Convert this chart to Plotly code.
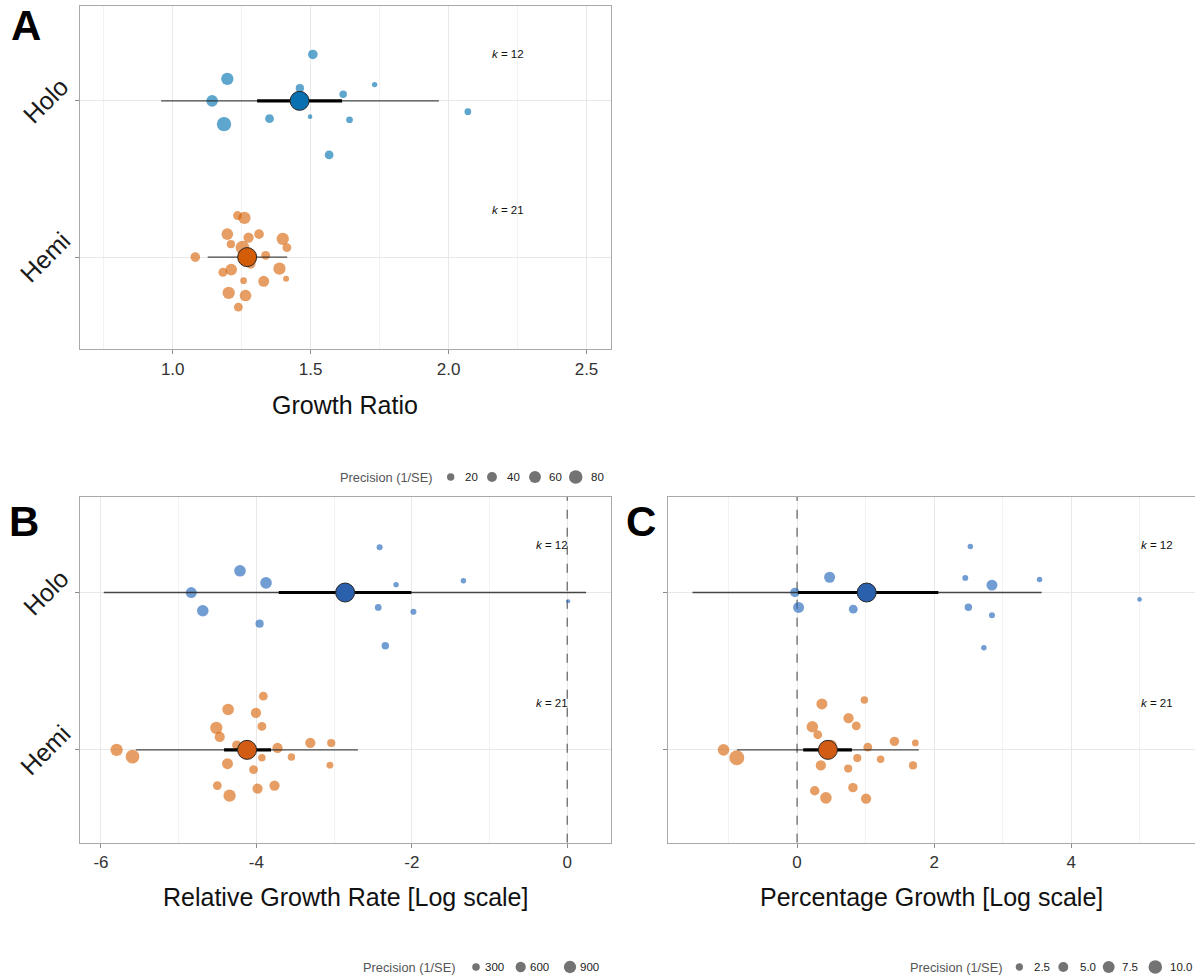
import numpy as np
import plotly.graph_objects as go

W, H = 1195, 978
FONT = "Liberation Sans, Arial, sans-serif"

# ---------------------------------------------------------------------------
# Data
# ---------------------------------------------------------------------------
group_pos = {"Holo": 2, "Hemi": 1}
k_counts = {"Holo": 12, "Hemi": 21}

# Panel A: Growth Ratio
a_holo_est = [1.508, 1.198, 1.143, 1.186, 1.461, 1.618, 1.732, 1.351, 1.498, 1.641, 1.567, 2.070]
a_holo_jit = [0.297, 0.141, 0.0, -0.149, 0.081, 0.042, 0.104, -0.114, -0.101, -0.121, -0.346, -0.069]
a_holo_prec = [37, 65, 57, 90, 26, 21, 9, 30, 6, 16, 30, 16]

a_hemi_est = [1.235, 1.260, 1.198, 1.275, 1.313, 1.399, 1.414, 1.211, 1.253, 1.337, 1.082,
              1.212, 1.182, 1.387, 1.257, 1.330, 1.411, 1.203, 1.264, 1.238, 1.283]
a_hemi_jit = [0.266, 0.251, 0.147, 0.125, 0.147, 0.117, 0.061, 0.083, 0.061, 0.011, 0.0,
              -0.080, -0.097, -0.074, -0.151, -0.155, -0.138, -0.229, -0.246, -0.320, -0.043]
a_hemi_prec = [31, 65, 57, 43, 37, 65, 31, 26, 83, 31, 37, 57, 31, 65, 16, 50, 12, 65, 57, 31, 37]

# mean, CI low, CI high, PI low, PI high
a_summary = {"Holo": (1.460, 1.306, 1.614, 0.958, 1.965),
             "Hemi": (1.270, 1.240, 1.300, 1.127, 1.415)}

# Panel B: Relative Growth Rate (log scale)
b_holo_est = [-2.414, -4.211, -3.876, -2.202, -1.336, -4.838, -4.690, -2.432, -1.979, 0.013, -3.959, -2.341]
b_holo_jit = [0.287, 0.138, 0.061, 0.050, 0.075, 0.0, -0.116, -0.095, -0.123, -0.056, -0.198, -0.339]
b_holo_prec = [170, 787, 787, 130, 130, 696, 787, 225, 170, 56, 357, 287]

b_hemi_est = [-3.911, -4.364, -4.006, -4.516, -3.929, -4.472, -4.251, -3.306, -3.037, -3.728, -5.799,
              -5.594, -3.929, -3.549, -4.372, -4.037, -3.054, -4.503, -3.985, -3.767, -4.345]
b_hemi_jit = [0.341, 0.257, 0.235, 0.140, 0.149, 0.082, 0.030, 0.045, 0.043, 0.013, 0.0,
              -0.043, -0.050, -0.045, -0.088, -0.125, -0.097, -0.227, -0.246, -0.227, -0.291]
b_hemi_prec = [423, 787, 598, 900, 423, 598, 506, 598, 357, 598, 900,
               1150, 287, 287, 696, 423, 225, 423, 598, 598, 900]

b_summary = {"Holo": (-2.858, -3.712, -2.006, -5.964, 0.243),
             "Hemi": (-4.120, -4.416, -3.811, -5.551, -2.694)}

# Panel C: Percentage Growth (log scale)
c_holo_est = [2.529, 0.475, 2.455, 2.844, 3.539, -0.032, 0.022, 0.820, 2.500, 2.844, 4.998, 2.726]
c_holo_jit = [0.292, 0.097, 0.093, 0.047, 0.082, 0.0, -0.095, -0.106, -0.094, -0.144, -0.044, -0.351]
c_holo_prec = [1.2, 6.3, 1.5, 6.3, 1.2, 4.5, 6.3, 3.8, 2.6, 1.5, 0.8, 1.2]

c_hemi_est = [0.362, 0.982, 0.751, 0.223, 0.864, 0.302, 1.421, 1.726, 1.032, -1.073, -0.880,
              0.879, 1.219, 0.347, 0.746, 1.692, 0.258, 0.815, 0.421, 1.007, 0.494]
c_hemi_jit = [0.292, 0.317, 0.201, 0.147, 0.152, 0.096, 0.054, 0.044, 0.017, 0.0, -0.050,
              -0.052, -0.060, -0.099, -0.119, -0.099, -0.260, -0.240, -0.305, -0.310, 0.028]
c_hemi_prec = [6.3, 2.6, 5.4, 7.1, 3.8, 3.8, 4.5, 2.0, 3.8, 7.1, 12.6,
               3.2, 2.6, 5.4, 3.2, 3.2, 4.5, 4.5, 7.1, 5.4, 7.1]

c_summary = {"Holo": (1.016, 0.012, 2.061, -1.526, 3.569),
             "Hemi": (0.450, 0.090, 0.800, -0.875, 1.776)}

# Precision legend breaks
a_breaks = [20, 40, 60, 80]
a_break_labels = ["20", "40", "60", "80"]
b_breaks = [300, 600, 900]
b_break_labels = ["300", "600", "900"]
c_breaks = [2.5, 5.0, 7.5, 10.0]
c_break_labels = ["2.5", "5.0", "7.5", "10.0"]

# Axis ticks
a_ticks = [1.0, 1.5, 2.0, 2.5]
a_ticktext = ["1.0", "1.5", "2.0", "2.5"]
a_minor = [0.75, 1.25, 1.75, 2.25]
b_ticks = [-6, -4, -2, 0]
b_ticktext = ["-6", "-4", "-2", "0"]
b_minor = [-5, -3, -1]
c_ticks = [0, 2, 4]
c_ticktext = ["0", "2", "4"]
c_minor = [-1, 1, 3, 5]

Y_RANGE = [0.41, 2.607]

# ---------------------------------------------------------------------------
# Styling
# ---------------------------------------------------------------------------
point_colors = {
    "A": {"Holo": "rgba(0,114,178,0.90)", "Hemi": "rgba(213,94,0,0.86)"},
    "B": {"Holo": "rgba(30,100,185,0.90)", "Hemi": "rgba(213,94,0,0.86)"},
}
point_colors["C"] = point_colors["B"]
mean_colors = {
    "A": {"Holo": "#0a70b0", "Hemi": "#d35c06"},
    "B": {"Holo": "#2b60ad", "Hemi": "#d35c14"},
}
mean_colors["C"] = mean_colors["B"]

# marker diameter (px) = scale * sqrt(precision) + outline allowance
size_scale = {"A": 1.38, "B": 0.37, "C": 3.9}
STROKE = 1.2


def dot_size(prec, scale):
    return scale * np.sqrt(np.asarray(prec, dtype=float)) + STROKE


panels = {
    "A": dict(xa="x", ya="y",
              data={"Holo": (a_holo_est, a_holo_jit, a_holo_prec),
                    "Hemi": (a_hemi_est, a_hemi_jit, a_hemi_prec)},
              summary=a_summary, k_x=2.215, zero_line=False),
    "B": dict(xa="x2", ya="y2",
              data={"Holo": (b_holo_est, b_holo_jit, b_holo_prec),
                    "Hemi": (b_hemi_est, b_hemi_jit, b_hemi_prec)},
              summary=b_summary, k_x=-0.194, zero_line=True),
    "C": dict(xa="x3", ya="y3",
              data={"Holo": (c_holo_est, c_holo_jit, c_holo_prec),
                    "Hemi": (c_hemi_est, c_hemi_jit, c_hemi_prec)},
              summary=c_summary, k_x=5.254, zero_line=True),
}

fig = go.Figure()
annotations = []

for name, p in panels.items():
    sc = size_scale[name]
    # dashed reference line at zero (log-ratio scales)
    if p["zero_line"]:
        fig.add_trace(go.Scatter(
            x=[0, 0], y=Y_RANGE, mode="lines", xaxis=p["xa"], yaxis=p["ya"],
            line=dict(color="#606060", width=1.2, dash="dash"),
            showlegend=False, hoverinfo="skip"))
    # individual effect sizes
    for grp in ["Hemi", "Holo"]:
        est, jit, prec = p["data"][grp]
        yy = group_pos[grp] + np.asarray(jit)
        fig.add_trace(go.Scatter(
            x=est, y=yy, mode="markers", xaxis=p["xa"], yaxis=p["ya"],
            marker=dict(size=dot_size(prec, sc), color=point_colors[name][grp],
                        line=dict(width=0)),
            showlegend=False, hoverinfo="skip"))
    # pooled estimate: prediction interval, confidence interval, mean
    for grp in ["Hemi", "Holo"]:
        m, cl, ch, pl, ph = p["summary"][grp]
        g = group_pos[grp]
        fig.add_trace(go.Scatter(
            x=[pl, ph], y=[g, g], mode="lines", xaxis=p["xa"], yaxis=p["ya"],
            line=dict(color="rgba(40,40,40,0.85)", width=1.3),
            showlegend=False, hoverinfo="skip"))
        fig.add_trace(go.Scatter(
            x=[cl, ch], y=[g, g], mode="lines", xaxis=p["xa"], yaxis=p["ya"],
            line=dict(color="#000000", width=3.2),
            showlegend=False, hoverinfo="skip"))
        fig.add_trace(go.Scatter(
            x=[m], y=[g], mode="markers", xaxis=p["xa"], yaxis=p["ya"],
            marker=dict(size=19, color=mean_colors[name][grp],
                        line=dict(width=1, color="#262626")),
            showlegend=False, hoverinfo="skip"))
        annotations.append(dict(
            x=p["k_x"], y=g + 0.30, xref=p["xa"], yref=p["ya"],
            text=f"<i>k</i> = {k_counts[grp]}", showarrow=False,
            font=dict(family=FONT, size=11.5, color="#111111"),
            xanchor="center", yanchor="middle"))

# ---------------------------------------------------------------------------
# Size legends (drawn on a hidden pixel-space axis)
# ---------------------------------------------------------------------------
legends = [
    dict(panel="A", breaks=a_breaks, labels=a_break_labels, y=477,
         title_right=434, dots=[450.7, 492.0, 535.0, 575.7],
         label_left=[463.0, 504.5, 546.5, 589.0]),
    dict(panel="B", breaks=b_breaks, labels=b_break_labels, y=967,
         title_right=457, dots=[476.0, 520.7, 570.0],
         label_left=[483.0, 528.0, 578.0]),
    dict(panel="C", breaks=c_breaks, labels=c_break_labels, y=967,
         title_right=1004, dots=[1019.3, 1063.3, 1108.7, 1155.3],
         label_left=[1032.0, 1077.5, 1120.0, 1168.0]),
]
for lg in legends:
    fig.add_trace(go.Scatter(
        x=lg["dots"], y=[lg["y"]] * len(lg["dots"]), mode="markers",
        xaxis="x4", yaxis="y4",
        marker=dict(size=dot_size(lg["breaks"], size_scale[lg["panel"]]),
                    color="rgba(45,45,45,0.95)", line=dict(width=0)),
        showlegend=False, hoverinfo="skip"))
    annotations.append(dict(
        x=lg["title_right"], y=lg["y"], xref="x4", yref="y4",
        text="Precision (1/SE)", showarrow=False, xanchor="right", yanchor="middle",
        font=dict(family=FONT, size=12.8, color="#555555")))
    for lx, lab in zip(lg["label_left"], lg["labels"]):
        annotations.append(dict(
            x=lx, y=lg["y"], xref="x4", yref="y4", text=lab, showarrow=False,
            xanchor="left", yanchor="middle",
            font=dict(family=FONT, size=11.5, color="#222222")))

# ---------------------------------------------------------------------------
# Axes
# ---------------------------------------------------------------------------
GRID = "#e8e8e8"
MINOR_GRID = "#f2f2f2"
FRAME = "#a9a9a9"


def xaxis_style(domain, rng, ticks, ticktext, minor, anchor):
    return dict(
        domain=domain, range=rng, anchor=anchor,
        tickmode="array", tickvals=ticks, ticktext=ticktext,
        ticks="outside", ticklen=4, tickwidth=1, tickcolor="#8c8c8c",
        tickfont=dict(family=FONT, size=17, color="#333333"),
        showgrid=True, gridcolor=GRID, gridwidth=1,
        minor=dict(tickvals=minor, showgrid=True, gridcolor=MINOR_GRID, gridwidth=1, ticks=""),
        showline=True, mirror=True, linecolor=FRAME, linewidth=1,
        zeroline=False, fixedrange=True)


def yaxis_style(domain, anchor):
    return dict(
        domain=domain, range=Y_RANGE, anchor=anchor,
        tickmode="array", tickvals=[1, 2], showticklabels=False,
        ticks="outside", ticklen=4, tickwidth=1, tickcolor="#8c8c8c",
        showgrid=True, gridcolor=GRID, gridwidth=1,
        showline=True, mirror=True, linecolor=FRAME, linewidth=1,
        zeroline=False, fixedrange=True)


dom_ax = [80 / W, 610.5 / W]
dom_cx = [667.7 / W, 1194.5 / W]
dom_ay = [1 - 349.3 / H, 1 - 6 / H]
dom_by = [1 - 842.7 / H, 1 - 497 / H]

fig.update_layout(
    xaxis=xaxis_style(dom_ax, [0.664, 2.587], a_ticks, a_ticktext, a_minor, "y"),
    yaxis=yaxis_style(dom_ay, "x"),
    xaxis2=xaxis_style(dom_ax, [-6.27, 0.557], b_ticks, b_ticktext, b_minor, "y2"),
    yaxis2=yaxis_style(dom_by, "x2"),
    xaxis3=xaxis_style(dom_cx, [-1.888, 5.80], c_ticks, c_ticktext, c_minor, "y3"),
    yaxis3=yaxis_style(dom_by, "x3"),
    xaxis4=dict(domain=[0, 1], range=[0, W], anchor="y4", visible=False, fixedrange=True),
    yaxis4=dict(domain=[0, 1], range=[H, 0], anchor="x4", visible=False, fixedrange=True),
)

# category labels
for ya in ["y", "y2"]:
    for grp, g in group_pos.items():
        annotations.append(dict(
            x=45 / W, y=g, xref="paper", yref=ya, text=grp, showarrow=False,
            textangle=-45, xanchor="center", yanchor="middle",
            font=dict(family=FONT, size=25, color="#1a1a1a")))

# axis titles
titles = [("x", "Growth Ratio", 405), ("x2", "Relative Growth Rate [Log scale]", 897),
          ("x3", "Percentage Growth [Log scale]", 897)]
for xa, txt, ypx in titles:
    annotations.append(dict(
        x=0.5, y=1 - ypx / H, xref=f"{xa} domain", yref="paper", text=txt, showarrow=False,
        xanchor="center", yanchor="middle", font=dict(family=FONT, size=25, color="#111111")))

# panel tags
for tag, xpx, ypx in [("A", 26, 25), ("B", 24, 521), ("C", 641, 521)]:
    annotations.append(dict(
        x=xpx / W, y=1 - ypx / H, xref="paper", yref="paper", text=f"<b>{tag}</b>",
        showarrow=False, xanchor="center", yanchor="middle",
        font=dict(family=FONT, size=42, color="#000000")))

fig.update_layout(
    width=W, height=H, margin=dict(l=0, r=0, t=0, b=0),
    paper_bgcolor="white", plot_bgcolor="rgba(0,0,0,0)",
    annotations=annotations, showlegend=False,
)

fig.write_html("out.html", config={"displayModeBar": False})
